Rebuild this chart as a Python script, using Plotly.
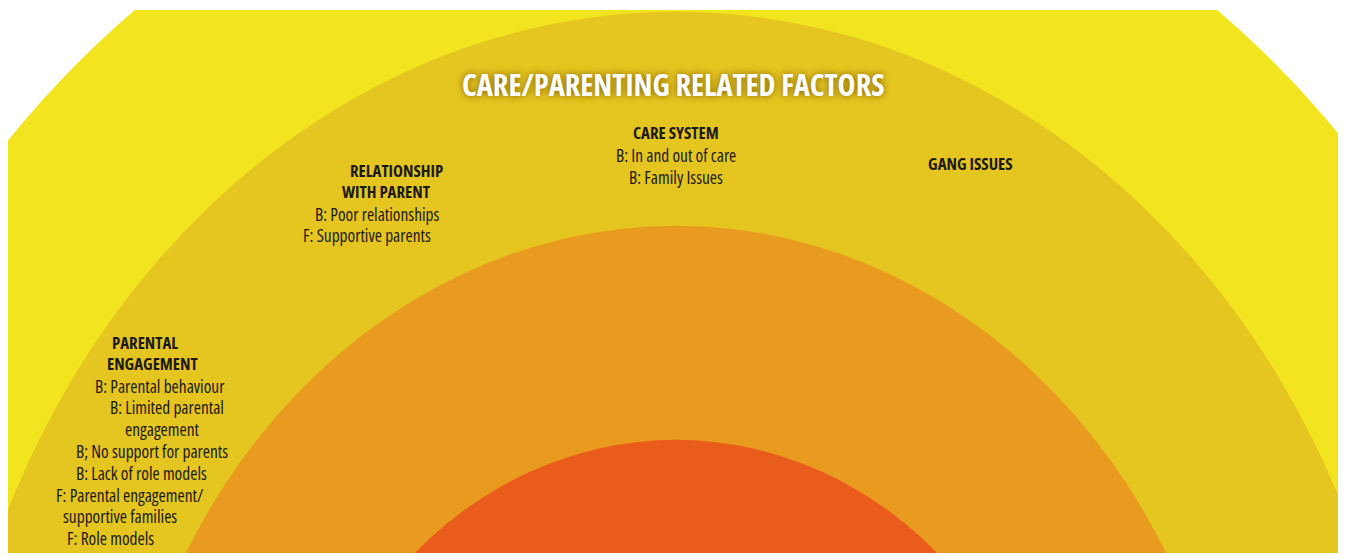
import plotly.graph_objects as go

# ---- data ----
ring_rx = [4.98, 4.00, 3.06, 2.10]          # horizontal radii of the layers (outer -> inner)
ring_ry = [4.98, 4.01, 3.01, 2.01]          # vertical radii of the layers
ring_colors = ["#F2E51F", "#E5C51F", "#E99B1F", "#EA5C1B"]

title_text = "CARE/PARENTING RELATED FACTORS"

care_lines = ["<b>CARE SYSTEM</b>", "B: In and out of care", "B: Family Issues"]
gang_lines = ["<b>GANG ISSUES</b>"]
relationship_lines = ["<b>RELATIONSHIP</b>", "<b>WITH PARENT</b>",
                      "B: Poor relationships", "F: Supportive parents"]
engagement_lines = ["<b>PARENTAL</b>", "<b>ENGAGEMENT</b>", "B: Parental behaviour",
                    "B: Limited parental", "engagement", "B; No support for parents",
                    "B: Lack of role models", "F: Parental engagement/",
                    "supportive families", "F: Role models"]

# ---- layout geometry (page pixels; the page body has an 8px margin) ----
W, H = 1346, 555
OFF = 8
ML, MR, MT, MB = 0, 14, 2, 10
CX, CY = 676, 870          # ring centre in page pixels
UX, UY = 184.0, 214.0      # pixels per unit horizontally / vertically

xr = [(OFF + ML - CX) / UX, (OFF + W - MR - CX) / UX]
yr = [(CY - (OFF + H - MB)) / UY, (CY - (OFF + MT)) / UY]

fig = go.Figure()
fig.add_trace(go.Scatter(x=[0], y=[3], mode="markers", marker=dict(opacity=0),
                         hoverinfo="skip", showlegend=False))

for rx, ry, c in zip(ring_rx, ring_ry, ring_colors):
    fig.add_shape(type="circle", xref="x", yref="y", x0=-rx, x1=rx, y0=-ry, y1=ry,
                  fillcolor=c, line=dict(width=0), layer="below")

def px(xp, yp):
    return ((xp - OFF - ML) / (W - ML - MR),
            1 - (yp - OFF - MT) / (H - MT - MB))

FONT = "Open Sans"

def cond(t):
    return f'<span style="font-stretch:condensed">{t}</span>'

def add_block(lines, xs, y0, dy=21.8):
    for i, (t, xc) in enumerate(zip(lines, xs)):
        xpp, ypp = px(xc, y0 + i * dy)
        size = 16.8 if t.startswith("<b>") else 17.4
        fig.add_annotation(x=xpp, y=ypp, xref="paper", yref="paper", text=cond(t),
                           showarrow=False, xanchor="center", yanchor="middle",
                           borderpad=0,
                           font=dict(family=FONT, size=size, color="#1c1a12"))

add_block(care_lines, [676, 676, 676], 133)
add_block(gang_lines, [970], 163)
add_block(relationship_lines, [396, 386, 377, 367], 170)
add_block(engagement_lines, [145, 152, 160, 167, 162, 152, 141, 130, 120, 110], 342)

tx, ty = px(673, 84)
fig.add_annotation(x=tx, y=ty, xref="paper", yref="paper",
                   text=cond("<b>" + title_text + "</b>"),
                   showarrow=False, xanchor="center", yanchor="middle",
                   font=dict(family=FONT, size=30.5, color="white",
                             shadow="0px 0px 7px rgba(110,80,0,0.9)"))

fig.update_layout(
    width=W, height=H,
    margin=dict(l=ML, r=MR, t=MT, b=MB),
    paper_bgcolor="white", plot_bgcolor="white",
    xaxis=dict(range=xr, visible=False, fixedrange=True),
    yaxis=dict(range=yr, visible=False, fixedrange=True),
    showlegend=False,
)

fig.write_html("out.html")
